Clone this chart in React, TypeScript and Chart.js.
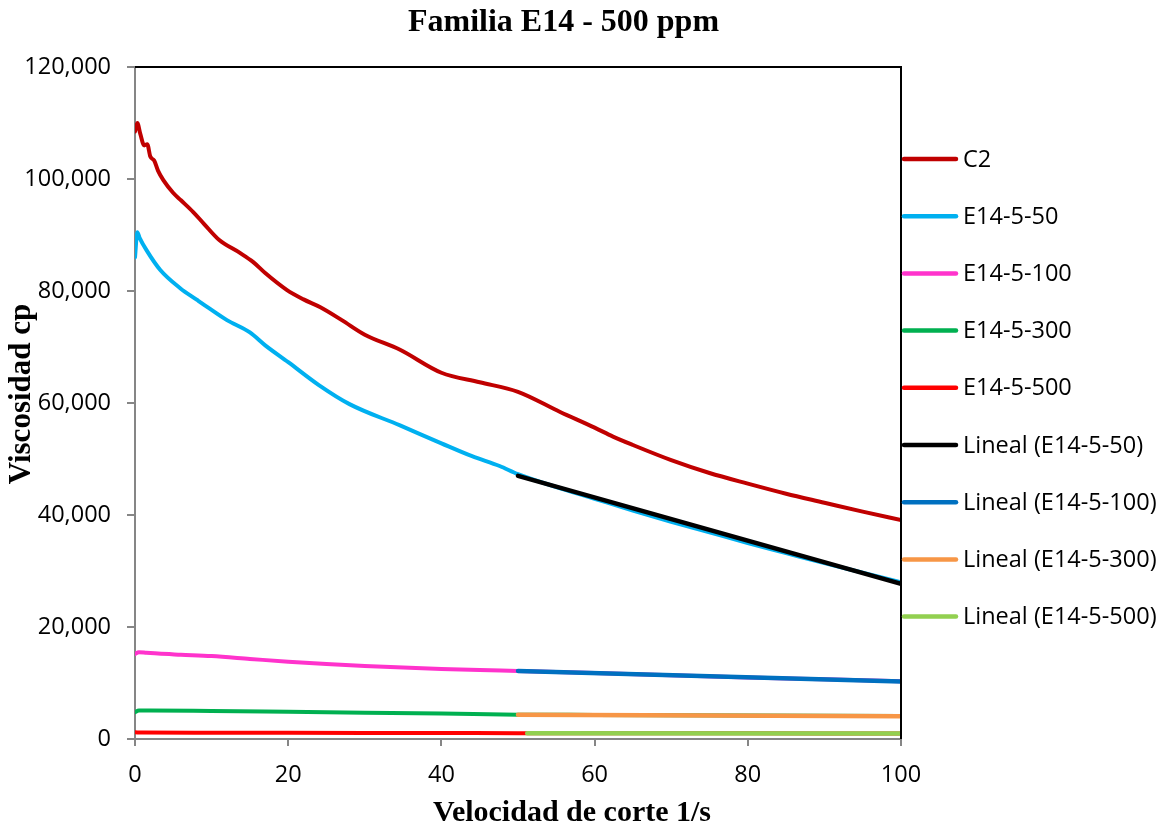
import React, { useEffect, useRef } from "react";
import { Chart, registerables } from "chart.js";

Chart.register(...registerables);

const chartTitle = "Familia E14 - 500 ppm";
const xTitle = "Velocidad de corte 1/s";
const yTitle = "Viscosidad cp";

const xTicks = [0, 20, 40, 60, 80, 100];
const yTicks = [0, 20000, 40000, 60000, 80000, 100000, 120000];

const c2Rates = [0, 0.3, 0.7, 1.2, 1.6, 2, 2.5, 3, 3.7, 5, 6, 7.6, 9, 11, 13.7, 15.4, 17, 19.8, 22, 24.2, 27, 30, 34.6, 40, 45, 50, 55.5, 60, 62.4, 65, 70, 75, 80, 85, 90, 95, 100];
const c2Values = [108500, 110000, 108000, 106000, 106200, 104000, 103300, 101500, 99800, 97500, 96200, 94100, 92000, 89100, 86800, 85200, 83200, 80200, 78500, 77100, 74800, 72200, 69500, 65400, 63700, 62000, 58400, 55600, 54000, 52500, 49800, 47500, 45600, 43800, 42200, 40600, 39100];

const e50Rates = [0, 0.3, 0.6, 1.5, 3.3, 5.9, 8.1, 9.8, 12, 15, 17, 20, 24, 28, 34.6, 40, 44, 47.6, 50, 55, 60, 65, 70, 75, 80, 85, 90, 95, 100];
const e50Values = [86000, 90500, 89500, 87300, 83750, 80500, 78400, 76800, 74800, 72600, 70300, 67300, 63200, 59800, 56000, 52800, 50500, 48750, 47300, 45000, 42900, 40800, 38800, 36900, 35000, 33200, 31400, 29700, 28000];

const e100Rates = [0, 0.5, 1.5, 3, 6, 10, 15, 20, 25, 30, 35, 40, 45, 50, 60, 70, 80, 90, 100];
const e100Values = [15200, 15500, 15400, 15250, 15050, 14800, 14300, 13800, 13400, 13050, 12750, 12500, 12300, 12150, 11800, 11400, 11000, 10650, 10300];

const e300Rates = [0, 0.5, 2, 10, 20, 30, 40, 50, 60, 70, 80, 90, 100];
const e300Values = [4800, 5100, 5100, 5000, 4850, 4700, 4550, 4350, 4300, 4250, 4200, 4150, 4100];

const e500Rates = [0, 1, 10, 20, 30, 40, 50, 60, 70, 80, 90, 100];
const e500Values = [1200, 1150, 1120, 1100, 1080, 1060, 1040, 1030, 1020, 1010, 1000, 990];

const trend50Rates = [50, 100];
const trend50Values = [47000, 27700];
const trend100Rates = [50, 100];
const trend100Values = [12150, 10250];
const trend300Rates = [50, 100];
const trend300Values = [4350, 4050];
const trend500Rates = [51.2, 100];
const trend500Values = [1030, 990];

const seriesNames = ["C2", "E14-5-50", "E14-5-100", "E14-5-300", "E14-5-500", "Lineal (E14-5-50)", "Lineal (E14-5-100)", "Lineal (E14-5-300)", "Lineal (E14-5-500)"];
const seriesColors = ["#C00000", "#00B0F0", "#FF33CC", "#00B050", "#FF0000", "#000000", "#0070C0", "#F79646", "#92D050"];

const toPoints = (xs: number[], ys: number[]) => xs.map((x, i) => ({ x, y: ys[i] }));

const TICK_FONT = "Open Sans";
const TICK_SIZE = 23.5;

export default function App() {
  const ref = useRef<HTMLCanvasElement | null>(null);

  useEffect(() => {
    const canvas = ref.current;
    if (!canvas) return;

    const rateSets = [c2Rates, e50Rates, e100Rates, e300Rates, e500Rates, trend50Rates, trend100Rates, trend300Rates, trend500Rates];
    const valueSets = [c2Values, e50Values, e100Values, e300Values, e500Values, trend50Values, trend100Values, trend300Values, trend500Values];

    const datasets = seriesNames.map((name, i) => {
      const isTrend = i >= 5;
      return {
        label: name,
        data: toPoints(rateSets[i], valueSets[i]),
        borderColor: seriesColors[i],
        backgroundColor: seriesColors[i],
        borderWidth: isTrend ? 4.5 : 4,
        pointRadius: 0,
        pointHoverRadius: 0,
        tension: isTrend ? 0 : 0.3,
        cubicInterpolationMode: isTrend ? "default" : "monotone",
        fill: false,
        order: isTrend ? 0 : 1,
        borderCapStyle: "round",
      };
    });

    const decorPlugin = {
      id: "decor",
      afterDraw(chart: any) {
        const { ctx, chartArea } = chart;
        ctx.save();
        // top & right black border
        ctx.strokeStyle = "#000000";
        ctx.lineWidth = 2;
        ctx.beginPath();
        ctx.moveTo(chartArea.left, chartArea.top);
        ctx.lineTo(chartArea.right, chartArea.top);
        ctx.lineTo(chartArea.right, chartArea.bottom);
        ctx.stroke();

        // titles
        ctx.fillStyle = "#000000";
        ctx.textAlign = "center";
        ctx.textBaseline = "middle";
        ctx.font = 'bold 32px "Liberation Serif"';
        ctx.fillText(chartTitle, 563.5, 23);
        ctx.font = 'bold 30px "Liberation Serif"';
        ctx.fillText(xTitle, 572, 813);
        ctx.save();
        ctx.translate(22, 394);
        ctx.rotate(-Math.PI / 2);
        ctx.font = 'bold 31px "Liberation Serif"';
        ctx.fillText(yTitle, 0, 0);
        ctx.restore();

        // legend
        ctx.font = `${TICK_SIZE}px "${TICK_FONT}"`;
        ctx.textAlign = "left";
        ctx.textBaseline = "middle";
        chart.data.datasets.forEach((ds: any, i: number) => {
          const y = 159 + i * 57.2;
          ctx.strokeStyle = ds.borderColor;
          ctx.lineWidth = 4.5;
          ctx.lineCap = "round";
          ctx.beginPath();
          ctx.moveTo(904, y);
          ctx.lineTo(956, y);
          ctx.stroke();
          ctx.fillStyle = "#000000";
          ctx.fillText(ds.label, 963, y + 1);
        });
        ctx.restore();
      },
    };

    const chart = new Chart(canvas, {
      type: "line",
      data: { datasets: datasets as any },
      options: {
        animation: false,
        responsive: false,
        maintainAspectRatio: false,
        layout: { padding: { top: 67, right: 263, left: 0, bottom: 0 } },
        plugins: {
          legend: { display: false },
          tooltip: { enabled: false },
          title: { display: false },
        },
        scales: {
          x: {
            type: "linear",
            min: 0,
            max: 100,
            afterFit: (s: any) => { s.height = 85; },
            afterBuildTicks: (s: any) => { s.ticks = xTicks.map((v) => ({ value: v })); },
            ticks: {
              font: { family: TICK_FONT, size: TICK_SIZE },
              color: "#000000",
              padding: 15,
              maxRotation: 0,
              callback: (v: any) => String(v),
            },
            grid: { drawOnChartArea: false, drawTicks: true, tickLength: 7, color: "#868686", lineWidth: 2 },
            border: { display: true, color: "#868686", width: 2 },
          },
          y: {
            type: "linear",
            min: 0,
            max: 120000,
            afterFit: (s: any) => { s.width = 135; },
            afterBuildTicks: (s: any) => { s.ticks = yTicks.map((v) => ({ value: v })); },
            ticks: {
              font: { family: TICK_FONT, size: TICK_SIZE },
              color: "#000000",
              padding: 16,
              callback: (v: any) => Number(v).toLocaleString("en-US"),
            },
            grid: { drawOnChartArea: false, drawTicks: true, tickLength: 8, color: "#868686", lineWidth: 2 },
            border: { display: true, color: "#868686", width: 2 },
          },
        },
      },
      plugins: [decorPlugin],
    });

    return () => chart.destroy();
  }, []);

  return (
    <div style={{ position: "absolute", left: 0, top: 0, width: 1164, height: 824, background: "#ffffff" }}>
      <canvas ref={ref} width={1164} height={824} style={{ display: "block", width: 1164, height: 824 }} />
    </div>
  );
}
